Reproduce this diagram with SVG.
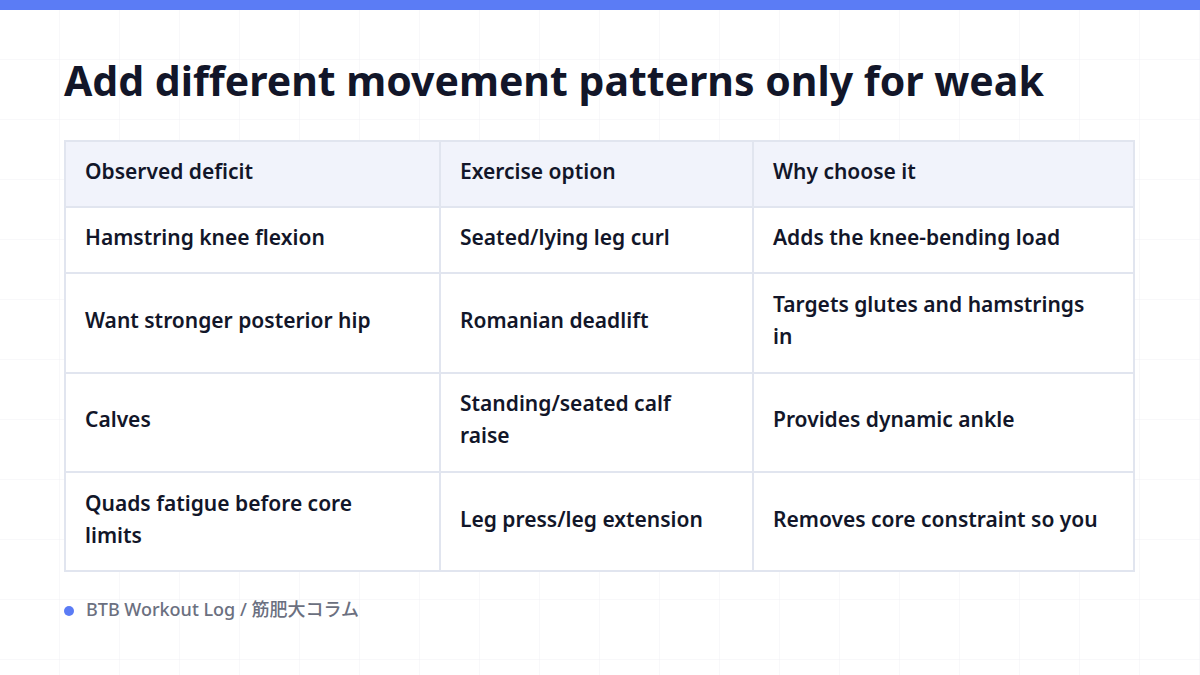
<svg xmlns="http://www.w3.org/2000/svg" width="1200" height="675" viewBox="0 0 1200 675">
<defs>
<pattern id="grid" width="60" height="60" patternUnits="userSpaceOnUse"><path d="M60 0V60M0 60H60" fill="none" stroke="#f0f1f5" stroke-width="1"/></pattern>
<style>
.t{font-family:"Noto Sans","Noto Sans CJK JP",sans-serif;font-size:21px;font-weight:600;fill:#121629}
.h{font-family:"Noto Sans",sans-serif;font-size:41px;font-weight:700;fill:#121629}
.f{font-family:"Noto Sans","Noto Sans CJK JP",sans-serif;font-size:18px;font-weight:500;fill:#6b7080}
.c{fill:#fff;stroke:#e1e5ef;stroke-width:2}
.hc{fill:#f1f3fb;stroke:#e1e5ef;stroke-width:2}
</style>
</defs>
<rect width="1200" height="675" fill="#fff"/>
<rect width="1200" height="675" fill="url(#grid)"/>
<rect width="1200" height="10" fill="#5b7cf5"/>
<text class="h" x="64" y="96">Add different movement patterns only for weak</text>
<g id="table">
<rect class="hc" x="65" y="141" width="375" height="66"/>
<rect class="hc" x="440" y="141" width="313" height="66"/>
<rect class="hc" x="753" y="141" width="381" height="66"/>
<rect class="c" x="65" y="207" width="375" height="66"/>
<rect class="c" x="440" y="207" width="313" height="66"/>
<rect class="c" x="753" y="207" width="381" height="66"/>
<rect class="c" x="65" y="273" width="375" height="100"/>
<rect class="c" x="440" y="273" width="313" height="100"/>
<rect class="c" x="753" y="273" width="381" height="100"/>
<rect class="c" x="65" y="373" width="375" height="99"/>
<rect class="c" x="440" y="373" width="313" height="99"/>
<rect class="c" x="753" y="373" width="381" height="99"/>
<rect class="c" x="65" y="472" width="375" height="99"/>
<rect class="c" x="440" y="472" width="313" height="99"/>
<rect class="c" x="753" y="472" width="381" height="99"/>
<text class="t" x="85" y="179">Observed deficit</text>
<text class="t" x="460" y="179">Exercise option</text>
<text class="t" x="773" y="179">Why choose it</text>
<text class="t" x="85" y="245">Hamstring knee flexion</text>
<text class="t" x="460" y="245">Seated/lying leg curl</text>
<text class="t" x="773" y="245">Adds the knee-bending load</text>
<text class="t" x="85" y="328">Want stronger posterior hip</text>
<text class="t" x="460" y="328">Romanian deadlift</text>
<text class="t" x="773" y="312">Targets glutes and hamstrings</text>
<text class="t" x="773" y="344">in</text>
<text class="t" x="85" y="427">Calves</text>
<text class="t" x="460" y="411">Standing/seated calf</text>
<text class="t" x="460" y="443">raise</text>
<text class="t" x="773" y="427">Provides dynamic ankle</text>
<text class="t" x="85" y="511">Quads fatigue before core</text>
<text class="t" x="85" y="543">limits</text>
<text class="t" x="460" y="527">Leg press/leg extension</text>
<text class="t" x="773" y="527">Removes core constraint so you</text>
</g>
<g id="footer">
<circle cx="69" cy="611" r="5" fill="#5b7cf5"/>
<text class="f" x="86" y="616">BTB Workout Log  /  筋肥大コラム</text>
</g>
</svg>
